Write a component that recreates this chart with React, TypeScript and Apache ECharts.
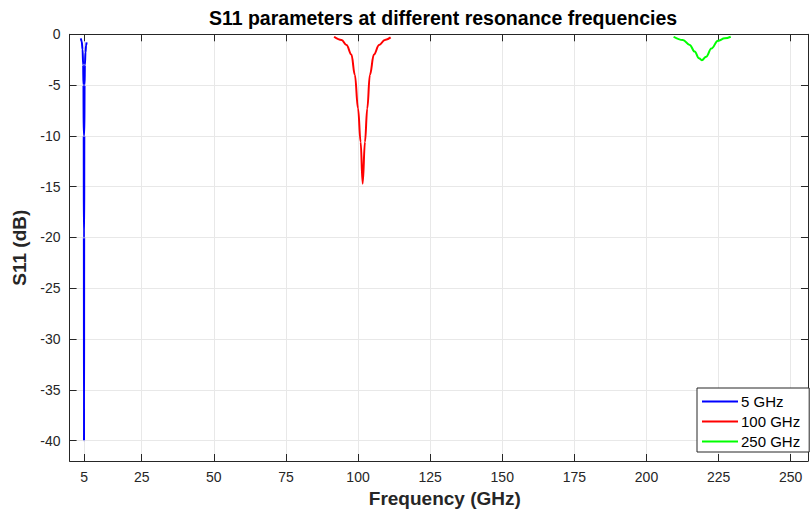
import React, { useEffect, useRef } from "react";
import * as echarts from "echarts";

const xTicks = [5, 25, 50, 75, 100, 125, 150, 175, 200, 225, 250];
const yTicks = [-40, -35, -30, -25, -20, -15, -10, -5, 0];

const seriesNames = ["5 GHz", "100 GHz", "250 GHz"];
const seriesColors = ["#0000ff", "#ff0000", "#00ff00"];

const freq5 = [3.9, 4.2, 4.5, 4.7, 4.8, 4.9, 4.95, 5.0, 5.05, 5.1, 5.2, 5.3, 5.5, 5.7, 5.9];
const s11_5 = [-0.4, -0.7, -1.5, -3, -5, -10, -20, -40, -20, -10, -5, -3, -1.8, -1.1, -0.8];

const freq100 = [91.7, 94.3, 96.0, 97.7, 98.9, 100.0, 100.9, 101.6, 102.4, 103.2, 104.1, 105.5, 107.3, 109.3, 111.3];
const s11_100 = [-0.24, -0.56, -1.05, -2.0, -4.0, -7.3, -10.6, -14.7, -10.6, -7.3, -4.0, -2.0, -1.05, -0.56, -0.3];

const freq250 = [209.4, 212.6, 215.0, 216.7, 218.2, 219.2, 220.7, 222.5, 224.8, 227.1, 229.2];
const s11_250 = [-0.24, -0.56, -1.05, -1.7, -2.35, -2.55, -2.2, -1.4, -0.63, -0.4, -0.24];

const X_MIN = 0;
const X_MAX = 256;
const Y_MIN = -42;
const Y_MAX = 0;

const FONT = "'Liberation Sans', Arial, Helvetica, sans-serif";
const AXIS_COLOR = "#262626";

export default function App() {
  const ref = useRef<HTMLDivElement>(null);
  useEffect(() => {
    if (!ref.current) return;
    document.body.style.margin = "0";
    const chart = echarts.init(ref.current, null, { renderer: "svg" });
    const pairs = (xs: number[], ys: number[]) => xs.map((x, i) => [x, ys[i]]);
    const datasets = [pairs(freq5, s11_5), pairs(freq100, s11_100), pairs(freq250, s11_250)];

    const tickCommon = { show: true, inside: true, length: 7, lineStyle: { color: AXIS_COLOR, width: 1 } };

    chart.setOption({
      animation: false,
      backgroundColor: "#ffffff",
      title: {
        text: "S11 parameters at different resonance frequencies",
        left: 443,
        top: 8,
        textAlign: "center",
        padding: 0,
        textStyle: { fontFamily: FONT, fontSize: 19.5, fontWeight: "bold", color: "#000000" },
      },
      grid: {
        left: 69.6,
        top: 34.3,
        right: 3,
        bottom: 53,
        containLabel: false,
        outerBoundsMode: "none",
        show: false,
      },
      legend: {
        orient: "vertical",
        left: 697,
        top: 388,
        padding: [6, 9, 3, 5],
        itemGap: 5,
        itemWidth: 36,
        itemHeight: 2,
        icon: "rect",
        borderColor: AXIS_COLOR,
        borderWidth: 1,
        borderRadius: 0,
        backgroundColor: "#ffffff",
        textStyle: { fontFamily: FONT, fontSize: 15, color: "#000000", padding: [0, 0, 0, -2] },
        data: seriesNames,
      },
      xAxis: [
        {
          type: "value",
          min: X_MIN,
          max: X_MAX,
          name: "Frequency (GHz)",
          nameLocation: "middle",
          nameGap: 26,
          nameTextStyle: {
            fontFamily: FONT,
            fontSize: 19,
            fontWeight: "bold",
            color: AXIS_COLOR,
            padding: [0, 0, 0, 12],
          },
          axisLine: { show: true, onZero: false, lineStyle: { color: AXIS_COLOR, width: 1 } },
          axisTick: { ...tickCommon, customValues: xTicks },
          axisLabel: { customValues: xTicks, fontFamily: FONT, fontSize: 14, color: AXIS_COLOR, margin: 9 },
          splitLine: { show: true, lineStyle: { color: "#e8e8e8", width: 1 } },
        },
        {
          type: "value",
          position: "top",
          min: X_MIN,
          max: X_MAX,
          axisLine: { show: true, onZero: false, lineStyle: { color: AXIS_COLOR, width: 1 } },
          axisTick: { ...tickCommon, customValues: xTicks },
          axisLabel: { show: false },
          splitLine: { show: false },
        },
      ],
      yAxis: [
        {
          type: "value",
          min: Y_MIN,
          max: Y_MAX,
          name: "S11 (dB)",
          nameLocation: "middle",
          nameGap: 40,
          nameTextStyle: { fontFamily: FONT, fontSize: 19, fontWeight: "bold", color: AXIS_COLOR },
          axisLine: { show: true, onZero: false, lineStyle: { color: AXIS_COLOR, width: 1 } },
          axisTick: { ...tickCommon, customValues: yTicks },
          axisLabel: { customValues: yTicks, fontFamily: FONT, fontSize: 14, color: AXIS_COLOR, margin: 9 },
          splitLine: { show: true, lineStyle: { color: "#e8e8e8", width: 1 } },
        },
        {
          type: "value",
          position: "right",
          min: Y_MIN,
          max: Y_MAX,
          axisLine: { show: true, onZero: false, lineStyle: { color: AXIS_COLOR, width: 1 } },
          axisTick: { ...tickCommon, customValues: yTicks },
          axisLabel: { show: false },
          splitLine: { show: false },
        },
      ],
      series: seriesNames.map((name, i) => ({
        name,
        type: "line",
        xAxisIndex: 0,
        yAxisIndex: 0,
        data: datasets[i],
        symbol: "none",
        smooth: 0.4,
        smoothMonotone: "x",
        lineStyle: { color: seriesColors[i], width: 2 },
        itemStyle: { color: seriesColors[i] },
        z: 3,
      })),
    });
    return () => chart.dispose();
  }, []);
  return <div ref={ref} style={{ position: "fixed", left: 0, top: 0, width: 811, height: 514 }} />;
}
